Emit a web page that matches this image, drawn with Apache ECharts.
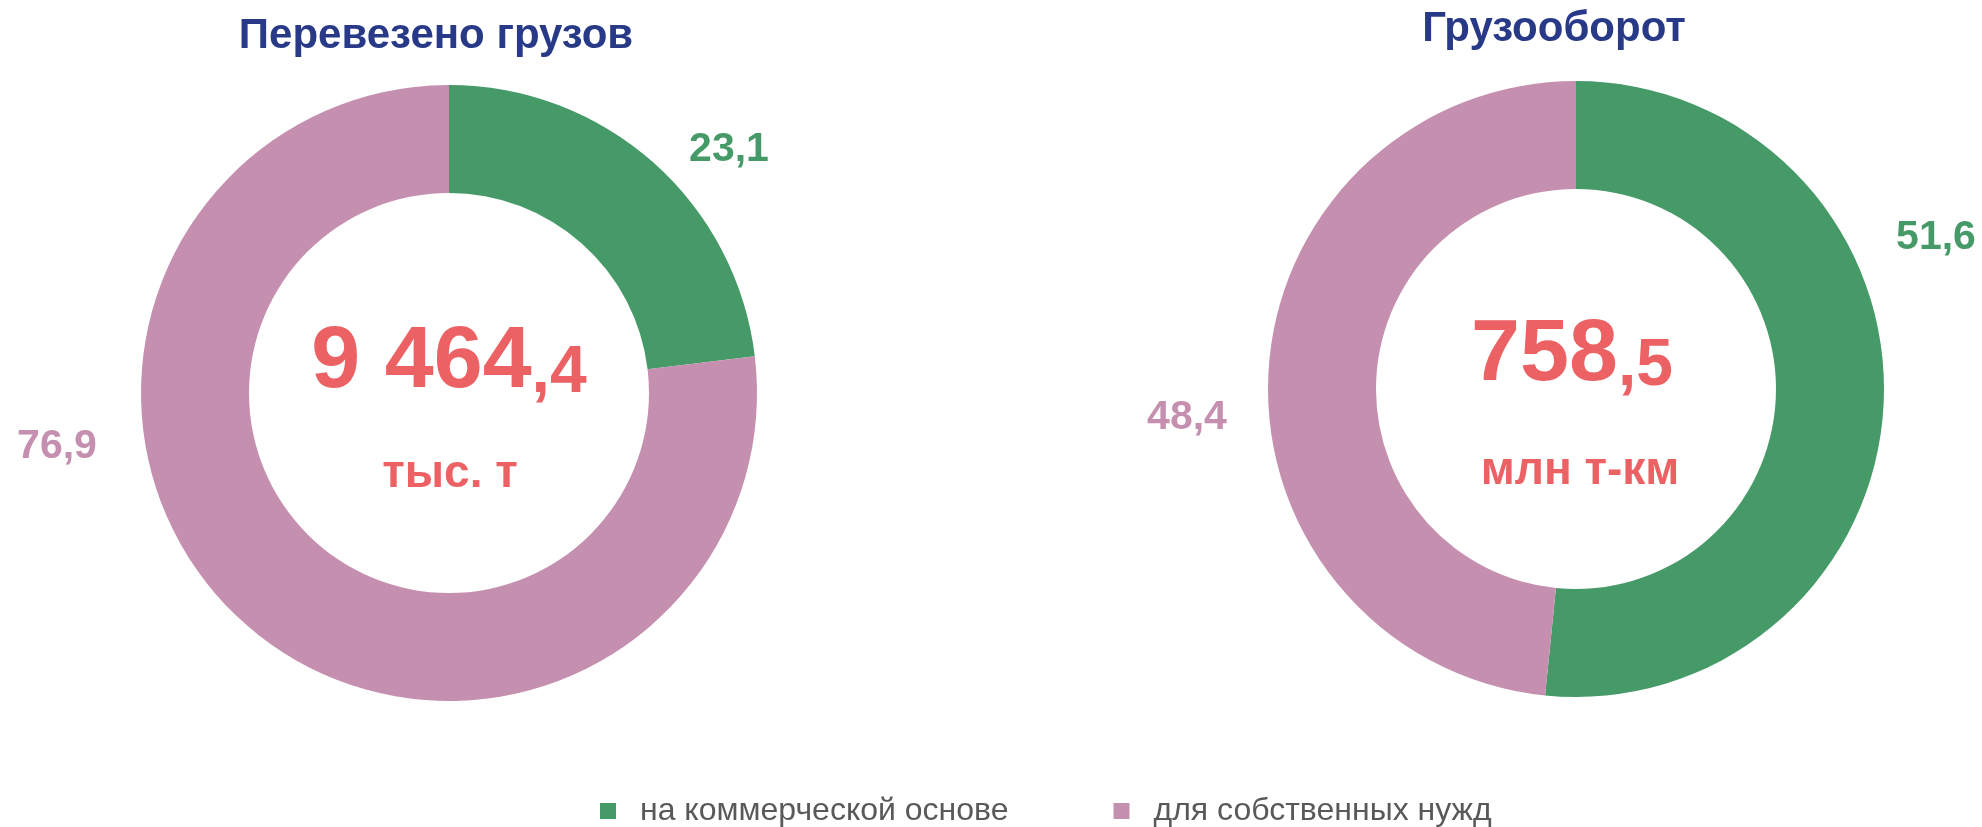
<!DOCTYPE html>
<html>
<head>
<meta charset="utf-8">
<script src="https://cdn.jsdelivr.net/npm/echarts@6/dist/echarts.min.js"></script>
<style>
  html, body { margin: 0; padding: 0; background: #fff; }
  #chart { width: 1982px; height: 827px; }
</style>
</head>
<body>
<div id="chart"></div>
<script>
var categories = ['на коммерческой основе', 'для собственных нужд'];
var cargoShares = [23.1, 76.9];      // Перевезено грузов, %
var turnoverShares = [51.6, 48.4];   // Грузооборот, %
var totals = [9464.4, 758.5];
var units = ['тыс. т', 'млн т-км'];
var chartTitles = ['Перевезено грузов', 'Грузооборот'];

var colors = ['#469A68', '#C58FAF'];
var font = '"Liberation Sans", Arial, sans-serif';

// label anchors (x, y) per pie / per slice
var labelPos = [
  [[729, 150], [57, 447]],
  [[1936, 238], [1187, 418]]
];

function fmtShare(v) {
  return v.toFixed(1).replace('.', ',');
}
function splitTotal(v) {
  var parts = v.toFixed(1).split('.');
  var intPart = parts[0].replace(/\B(?=(\d{3})+(?!\d))/g, ' ');
  return { i: intPart, d: ',' + parts[1] };
}

function makePie(idx, center, shares) {
  return {
    type: 'pie',
    center: center,
    radius: [200, 308],
    startAngle: 90,
    clockwise: true,
    avoidLabelOverlap: false,
    silent: true,
    emphasis: { disabled: true },
    itemStyle: { borderWidth: 0 },
    label: {
      show: true,
      position: 'outside',
      formatter: function (p) { return fmtShare(p.value); },
      fontFamily: font,
      fontSize: 41,
      fontWeight: 'bold',
      color: 'inherit'
    },
    labelLine: { show: false },
    labelLayout: function (p) {
      var pos = labelPos[idx][p.dataIndex];
      return { x: pos[0], y: pos[1], align: 'center', verticalAlign: 'middle' };
    },
    data: categories.map(function (c, i) {
      return { name: c, value: shares[i], label: { color: colors[i] } };
    })
  };
}

function centerTitle(idx, x, top) {
  var t = splitTotal(totals[idx]);
  return {
    text: '{a|' + t.i + '}{b|' + t.d + '}',
    left: x,
    top: top,
    textAlign: 'center',
    padding: 0,
    textStyle: {
      rich: {
        a: { fontFamily: font, fontSize: 88, fontWeight: 'bold', color: '#EC6264', lineHeight: 88, verticalAlign: 'bottom' },
        b: { fontFamily: font, fontSize: 66, fontWeight: 'bold', color: '#EC6264', lineHeight: 73, verticalAlign: 'bottom' }
      }
    }
  };
}

function unitTitle(idx, x, top) {
  return {
    text: units[idx],
    left: x,
    top: top,
    textAlign: 'center',
    padding: 0,
    textStyle: { fontFamily: font, fontSize: 46, fontWeight: 'bold', color: '#EC6264', lineHeight: 46 }
  };
}

var chart = echarts.init(document.getElementById('chart'), null, { renderer: 'canvas' });
var option = {
  animation: false,
  color: colors,
  title: [
    { text: chartTitles[0], left: 436, top: 15, textAlign: 'center', padding: 0,
      textStyle: { fontFamily: font, fontSize: 42, fontWeight: 'bold', color: '#283A87', lineHeight: 42 } },
    { text: chartTitles[1], left: 1554, top: 8, textAlign: 'center', padding: 0,
      textStyle: { fontFamily: font, fontSize: 42, fontWeight: 'bold', color: '#283A87', lineHeight: 42 } },
    centerTitle(0, 449, 319),
    centerTitle(1, 1572, 312),
    unitTitle(0, 450, 451),
    unitTitle(1, 1580, 448)
  ],
  legend: {
    data: categories,
    left: 600,
    top: 795,
    padding: 0,
    icon: 'rect',
    itemWidth: 16,
    itemHeight: 16,
    itemGap: 105,
    selectedMode: false,
    textStyle: { fontFamily: font, fontSize: 32, color: '#595959', lineHeight: 32, padding: [0, 0, 0, 19] }
  },
  series: [
    makePie(0, [449, 393], cargoShares),
    makePie(1, [1576, 389], turnoverShares)
  ]
};
chart.setOption(option);
</script>
</body>
</html>
